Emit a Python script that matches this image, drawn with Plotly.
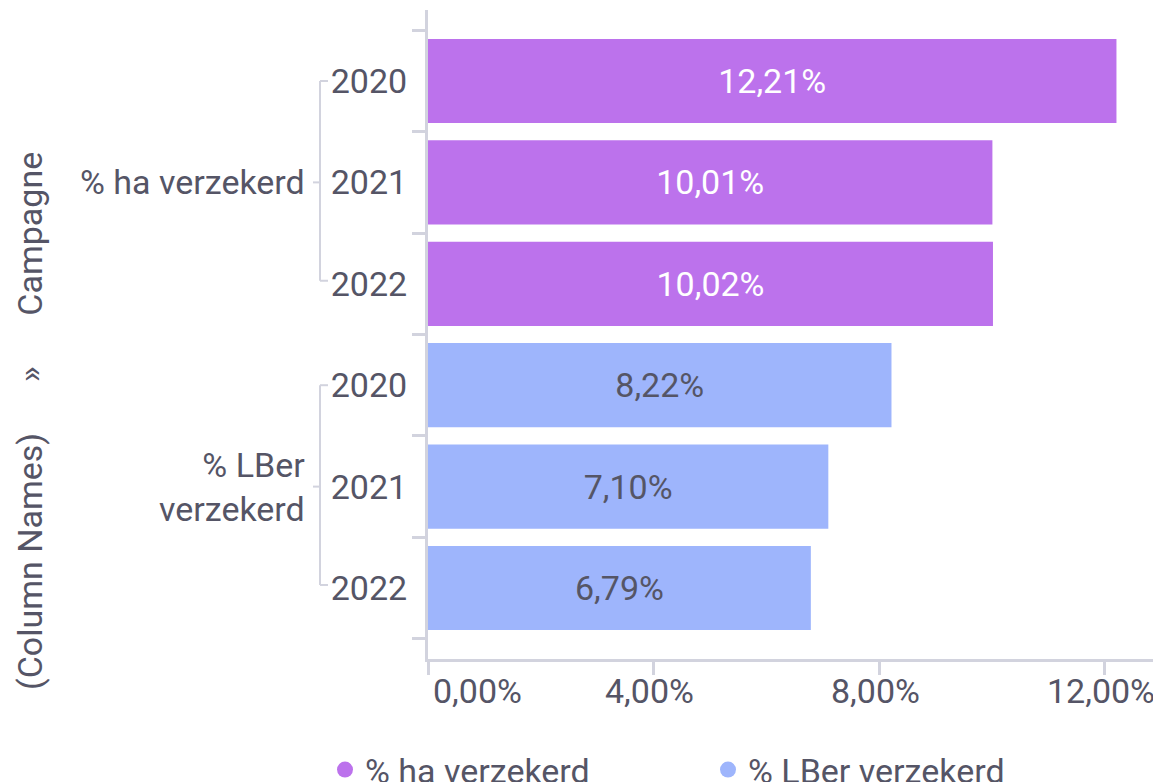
import plotly.graph_objects as go

# ---- data ----
series_names = ["% ha verzekerd", "% LBer verzekerd"]
group_labels = ["% ha verzekerd", "% LBer<br>verzekerd"]
years = ["2020", "2021", "2022"]
ha_values = [12.21, 10.01, 10.02]
lber_values = [8.22, 7.10, 6.79]
x_tick_values = [0, 4, 8, 12]
axis_title = "(Column Names)" + "\u00a0" * 6 + "»" + "\u00a0" * 6 + "Campagne"

# ---- styles ----
OFF = 8  # browser default body margin
W, H = 1161 - OFF, 782 - OFF
ML, MR, MT, MB = 428 - OFF, 0, 10 - OFF, 782 - 659
PW, PH = W - ML - MR, H - MT - MB
PURPLE = "#bc72ec"
BLUE = "#9eb5fc"
AXIS = "#d2d3de"
TEXT = "#555566"
FONT = "Roboto"
FS = 34


def px_x(p):
    # p given in reference-screen pixels
    return (p - OFF - ML) / PW


def px_y(p):
    return (H - MB - (p - OFF)) / PH


n = len(years)
pos_ha = list(range(n))
pos_lber = list(range(n, 2 * n))
all_pos = pos_ha + pos_lber


def fmt(v):
    return f"{v:.2f}".replace(".", ",") + "%"


fig = go.Figure()
fig.add_trace(go.Bar(
    x=ha_values, y=pos_ha, orientation="h", width=0.83,
    marker=dict(color=PURPLE, line=dict(width=0)),
    text=[fmt(v) for v in ha_values], textposition="inside",
    insidetextanchor="middle", textfont=dict(color="white", size=FS, family=FONT),
    showlegend=False, name=series_names[0],
))
fig.add_trace(go.Bar(
    x=lber_values, y=pos_lber, orientation="h", width=0.83,
    marker=dict(color=BLUE, line=dict(width=0)),
    text=[fmt(v) for v in lber_values], textposition="inside",
    insidetextanchor="middle", textfont=dict(color=TEXT, size=FS, family=FONT),
    showlegend=False, name=series_names[1],
))
# legend entries (circles)
for name, col in zip(series_names, [PURPLE, BLUE]):
    fig.add_trace(go.Scatter(
        x=[None], y=[None], mode="markers", name=name,
        marker=dict(symbol="circle", size=22, color=col),
    ))

fig.update_layout(
    width=W, height=H,
    margin=dict(l=ML, r=MR, t=MT, b=MB, autoexpand=False),
    paper_bgcolor="white", plot_bgcolor="white",
    barmode="overlay",
    font=dict(family=FONT, size=FS, color=TEXT),
    xaxis=dict(
        range=[0, 13], showgrid=False, zeroline=False,
        showline=True, linecolor=AXIS, linewidth=3,
        ticks="outside", ticklen=13, tickwidth=3, tickcolor=AXIS,
        tickvals=x_tick_values, showticklabels=False,
    ),
    yaxis=dict(
        range=[2 * n - 0.3, -0.7], showgrid=False, zeroline=False,
        showline=True, linecolor=AXIS, linewidth=3,
        ticks="", tickvals=all_pos, ticktext=years * 2,
        tickfont=dict(size=FS, color=TEXT), ticklabelstandoff=11,
        minor=dict(tickmode="array", tickvals=[p - 0.5 for p in all_pos] + [all_pos[-1] + 0.5],
                   ticks="outside", ticklen=13, tickwidth=3, tickcolor=AXIS, showgrid=False),
    ),
    legend=dict(
        orientation="h", x=px_x(325), xanchor="left", y=px_y(741), yanchor="top",
        font=dict(size=FS, color=TEXT), entrywidth=338, entrywidthmode="pixels",
        bgcolor="rgba(0,0,0,0)",
    ),
)

shapes = []
annotations = []

# x tick labels
for i, v in enumerate(x_tick_values):
    annotations.append(dict(
        text=fmt(v), xref="x", yref="paper", x=v, y=px_y(691),
        xanchor="left" if i == 0 else "center", xshift=3 if i == 0 else -4,
        yanchor="middle", showarrow=False,
        font=dict(size=FS, color=TEXT, family=FONT),
    ))

# group labels and brackets
for lab, positions in zip(group_labels, [pos_ha, pos_lber]):
    top, bot = positions[0], positions[-1]
    mid = positions[len(positions) // 2]
    xv, xs, xm = px_x(320), px_x(328), px_x(313)
    for (x0, y0, x1, y1) in [(xv, top, xv, bot - 0.03), (xv, top, xs, top),
                             (xv, bot - 0.03, xs, bot - 0.03), (xm, mid, xv, mid)]:
        shapes.append(dict(type="line", xref="paper", yref="y", x0=x0, y0=y0, x1=x1, y1=y1,
                           line=dict(color=AXIS, width=2)))
    annotations.append(dict(
        text=lab, xref="paper", yref="y", x=px_x(307), y=mid, xanchor="right",
        yanchor="middle", align="right", showarrow=False,
        font=dict(size=FS, color=TEXT, family=FONT),
    ))

annotations.append(dict(
    text=axis_title, xref="paper", yref="paper", x=px_x(30), y=px_y(421),
    xanchor="center", yanchor="middle", textangle=-90, showarrow=False,
    font=dict(size=FS, color=TEXT, family=FONT),
))
fig.update_layout(shapes=shapes, annotations=annotations)

fig.write_html("out.html")
